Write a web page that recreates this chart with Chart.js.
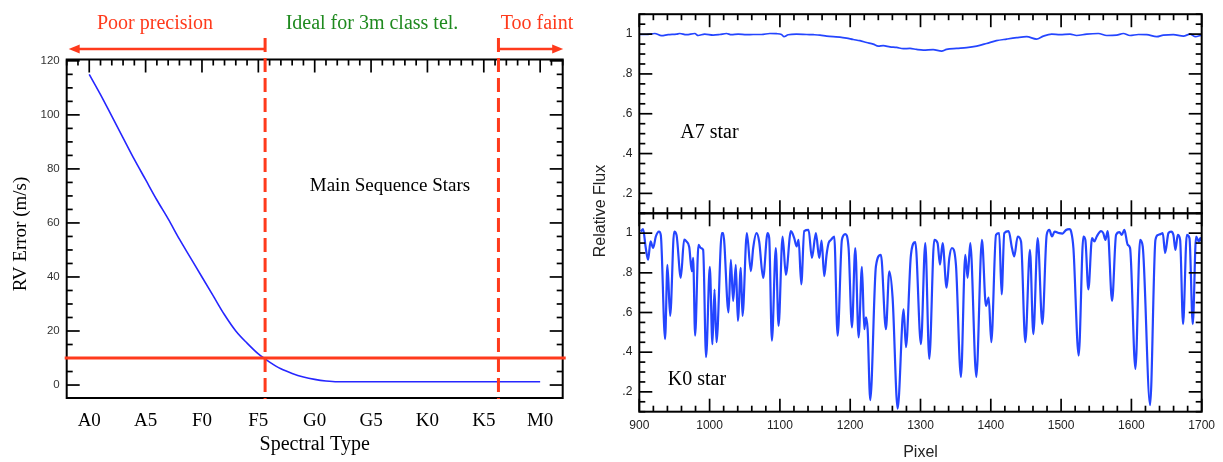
<!DOCTYPE html>
<html>
<head>
<meta charset="utf-8">
<script src="https://cdn.jsdelivr.net/npm/chart.js@4.4.1/dist/chart.umd.min.js"></script>
<style>
html,body{margin:0;padding:0;background:#fff;width:1223px;height:462px;overflow:hidden}
.box{position:absolute;top:0}
</style>
</head>
<body>
<div class="box" style="left:0;width:600px;height:462px"><canvas id="c1" width="600" height="462"></canvas></div>
<div class="box" style="left:580px;width:643px;height:462px"><canvas id="c2" width="643" height="462"></canvas></div>
<div class="box" style="left:580px;width:643px;height:462px"><canvas id="c3" width="643" height="462"></canvas></div>
<script>
// ---------- Left chart data ----------
const spectralTickValues = [0, 5, 10, 15, 20, 25, 30, 35, 40];
const spectralLabels = ['A0', 'A5', 'F0', 'F5', 'G0', 'G5', 'K0', 'K5', 'M0'];
const rvTickValues = [0, 20, 40, 60, 80, 100, 120];
const rvType = [0, 1, 2, 3, 4, 5, 6, 7, 8, 9, 10, 11, 12, 13, 14, 15, 16, 17, 18, 19, 20, 21, 22, 25, 30, 35, 40];
const rvError = [115, 107.5, 99.5, 91.5, 83.5, 76, 68.5, 61.5, 54, 47, 40, 33, 26, 20, 15.5, 11.5, 8.5, 6, 4.3, 3.0, 2.1, 1.5, 1.2, 1.2, 1.2, 1.2, 1.2];
const precisionLimit = 10;          // horizontal threshold (m/s)
const regionBounds = [15.6, 36.3];  // dashed boundaries in spectral-type units

// ---------- Right chart data ----------
const pixelTickValues = [900, 1000, 1100, 1200, 1300, 1400, 1500, 1600, 1700];
const fluxTickValues = [0.2, 0.4, 0.6, 0.8, 1.0];
const fluxTickLabels = ['.2', '.4', '.6', '.8', '1'];

const a7Pixel = [900, 910, 922, 931.5, 941, 953, 957.6, 967, 979, 983.7, 993, 1005, 1014.5, 1024, 1031, 1040.6, 1052.5, 1062, 1073.8, 1085.7, 1095, 1102.3, 1105.6, 1111.8, 1123.6, 1138, 1147.4, 1157, 1166.4, 1175.8, 1185.3, 1194.8, 1204.3, 1213.8, 1223.3, 1232.7, 1240, 1247, 1256.5, 1266, 1275.5, 1285, 1294.5, 1304, 1318, 1330, 1337, 1351.4, 1365.6, 1380, 1394, 1408, 1422.5, 1436.8, 1451, 1465, 1474.7, 1486.6, 1498.4, 1512.7, 1522, 1536.4, 1553, 1565, 1579, 1588.6, 1598, 1610, 1621.8, 1636, 1645.5, 1659.7, 1674, 1683.5, 1690.6, 1700];
const a7Flux = [0.998, 0.998, 1.003, 0.992, 0.997, 1.0, 1.003, 0.997, 1.003, 0.993, 1.0, 0.995, 0.998, 1.003, 0.997, 1.0, 0.997, 0.998, 0.998, 1.003, 1.002, 0.998, 0.987, 0.997, 1.0, 0.998, 0.997, 0.995, 0.99, 0.987, 0.985, 0.98, 0.973, 0.967, 0.958, 0.95, 0.94, 0.942, 0.936, 0.933, 0.927, 0.928, 0.923, 0.92, 0.922, 0.915, 0.923, 0.928, 0.932, 0.94, 0.953, 0.967, 0.975, 0.982, 0.987, 0.975, 0.99, 1.0, 0.997, 1.0, 0.993, 1.0, 1.003, 0.993, 0.995, 1.003, 0.993, 0.998, 0.997, 0.987, 0.995, 0.997, 0.99, 1.0, 0.987, 0.995];

const k0Pixel = [902, 905.4, 909, 912.5, 916, 919.7, 923.5, 928, 930.6, 936.7, 940, 943.9, 949.6, 953, 959, 963.8, 967, 971, 974.7, 976.6, 979.4, 984.2, 987.5, 990.8, 995, 1000.3, 1004, 1007, 1009.8, 1017.4, 1019.3, 1026.9, 1030.2, 1033.5, 1037.3, 1040.2, 1044.4, 1046.8, 1053, 1058.7, 1062, 1066.7, 1070.5, 1076.2, 1082.4, 1084.8, 1088.6, 1094.2, 1098.1, 1103.8, 1108.5, 1115.6, 1120.4, 1123.7, 1126.6, 1130.4, 1134.6, 1140.8, 1145.5, 1151.2, 1156, 1159.3, 1163.1, 1166.4, 1169.3, 1172.6, 1177.3, 1182.1, 1188.2, 1193, 1197.7, 1202.5, 1207.2, 1212, 1216.7, 1220, 1222.4, 1224.8, 1228.5, 1236.6, 1243.7, 1250.8, 1255.6, 1260.3, 1267.5, 1276, 1279.3, 1286.4, 1292.6, 1300.6, 1306.8, 1312.5, 1319.6, 1324.3, 1327.7, 1331.5, 1337.1, 1341, 1344.7, 1350.4, 1357.5, 1363.7, 1367, 1370.8, 1379.4, 1387.4, 1393.1, 1397, 1400.7, 1407.4, 1412, 1415.4, 1419.2, 1425.4, 1430.1, 1433.4, 1438.2, 1443, 1449.1, 1455.7, 1460.5, 1466.7, 1473.3, 1479.5, 1483.3, 1487, 1490.8, 1497.5, 1502, 1507, 1511.8, 1514.2, 1517.5, 1525, 1531.7, 1534.5, 1538.8, 1544, 1547.4, 1550.7, 1556.8, 1560, 1563, 1566.3, 1572.5, 1578.2, 1583, 1586.3, 1590, 1594.8, 1598.1, 1605.7, 1612.4, 1616.1, 1626.6, 1634.2, 1638, 1641.3, 1644.6, 1648, 1652.7, 1656.5, 1659.8, 1662.6, 1666, 1669.3, 1673.5, 1678.8, 1682.6, 1687.3, 1692, 1695.8, 1698.2, 1700];
const k0Flux = [1.008, 1.02, 0.93, 0.866, 0.958, 0.925, 0.983, 1.008, 0.99, 0.466, 0.84, 0.583, 1.008, 0.99, 0.775, 0.967, 0.958, 0.93, 0.808, 0.875, 0.483, 0.941, 0.925, 0.916, 0.375, 0.83, 0.44, 0.716, 0.45, 1.0, 1.0, 0.6, 0.866, 0.658, 0.84, 0.558, 0.825, 0.583, 1.0, 0.808, 0.925, 1.0, 0.958, 0.775, 1.0, 0.975, 0.458, 0.925, 0.533, 0.983, 0.79, 1.01, 0.975, 0.933, 0.966, 0.742, 1.01, 1.016, 0.875, 1.0, 0.875, 0.962, 0.783, 0.891, 0.95, 0.966, 0.983, 0.483, 0.966, 0.995, 0.925, 0.525, 0.925, 0.475, 0.83, 0.516, 0.575, 0.516, 0.158, 0.833, 0.89, 0.516, 0.808, 0.675, 0.116, 0.616, 0.425, 0.891, 0.955, 0.441, 0.95, 0.366, 0.966, 0.95, 0.841, 0.95, 0.725, 0.875, 0.925, 0.841, 0.275, 0.891, 0.775, 0.95, 0.275, 0.966, 0.633, 0.675, 0.45, 0.991, 1.0, 0.691, 1.0, 1.01, 0.925, 0.883, 0.983, 0.958, 0.45, 0.916, 0.491, 0.975, 0.541, 0.991, 1.016, 0.983, 1.008, 1.0, 0.998, 1.016, 1.02, 1.008, 0.925, 0.383, 0.983, 0.966, 0.716, 0.975, 0.958, 0.983, 1.01, 1.0, 0.966, 1.01, 0.658, 0.991, 1.005, 0.991, 1.016, 0.941, 0.925, 0.316, 0.966, 0.933, 0.133, 0.966, 0.991, 0.995, 1.0, 0.9, 1.0, 1.008, 0.991, 0.916, 0.991, 0.966, 0.541, 0.991, 0.975, 0.541, 0.983, 0.958, 0.975, 0.958];

// ---------- helpers ----------
const SERIF = "'Liberation Serif', 'Times New Roman', serif";
const SANS = "'Liberation Sans', Arial, sans-serif";

function drawFrame(chart, o) {
  const {ctx, chartArea: a} = chart;
  const xs = chart.scales.x, ys = chart.scales.y;
  ctx.save();
  ctx.strokeStyle = '#000';
  const seg = (x1, y1, x2, y2) => { ctx.beginPath(); ctx.moveTo(x1, y1); ctx.lineTo(x2, y2); ctx.stroke(); };
  ctx.lineWidth = 1.7;
  const yStart = Math.ceil(ys.min / o.yMinor - 1e-9) * o.yMinor;
  for (let v = yStart; v <= ys.max + 1e-9; v += o.yMinor) {
    const p = ys.getPixelForValue(v);
    const r = v / o.yMajor;
    const L = Math.abs(r - Math.round(r)) < 1e-6 ? 13 : 6;
    seg(a.left, p, a.left + L, p);
    seg(a.right, p, a.right - L, p);
  }
  const xStart = Math.ceil(xs.min / o.xMinor - 1e-9) * o.xMinor;
  for (let v = xStart; v <= xs.max + 1e-9; v += o.xMinor) {
    const p = xs.getPixelForValue(v);
    const r = v / o.xMajor;
    const L = Math.abs(r - Math.round(r)) < 1e-6 ? 13 : 6;
    if (o.top) seg(p, a.top, p, a.top + L);
    if (o.bottom) seg(p, a.bottom, p, a.bottom - L);
  }
  ctx.lineWidth = 2;
  ctx.strokeRect(a.left, a.top, a.right - a.left, a.bottom - a.top);
  ctx.restore();
}

function text(ctx, str, x, y, font, color, rot) {
  ctx.save();
  ctx.font = font;
  ctx.fillStyle = color;
  ctx.textAlign = 'center';
  ctx.textBaseline = 'middle';
  ctx.translate(x, y);
  if (rot) ctx.rotate(rot);
  ctx.fillText(str, 0, 0);
  ctx.restore();
}

const common = {
  responsive: false,
  animation: false,
  devicePixelRatio: 1,
  plugins: {legend: {display: false}, tooltip: {enabled: false}},
  elements: {point: {radius: 0}}
};

// ---------- Left chart ----------
const RED = '#ff3a1c';
new Chart(document.getElementById('c1'), {
  type: 'line',
  data: {
    datasets: [{
      data: rvType.map((t, i) => ({x: t, y: rvError[i]})),
      borderColor: '#2626ff', borderWidth: 1.6, pointRadius: 0,
      cubicInterpolationMode: 'monotone', fill: false
    }]
  },
  options: {
    ...common,
    layout: {padding: {left: 0, top: 59.5, right: 37.3, bottom: 0}},
    scales: {
      x: {
        type: 'linear', min: -2, max: 42,
        grid: {display: false, drawTicks: false}, border: {display: false},
        afterBuildTicks: s => { s.ticks = spectralTickValues.map(v => ({value: v})); },
        afterFit: s => { s.height = 64; },
        ticks: {padding: 12, autoSkip: false, maxRotation: 0, color: '#000',
                font: {family: SERIF, size: 19},
                callback: (v, i) => spectralLabels[i]},
        title: {display: true, text: 'Spectral Type', color: '#000',
                font: {family: SERIF, size: 20}, padding: {top: 0, bottom: 5}}
      },
      y: {
        type: 'linear', min: -4.8, max: 120.5,
        grid: {display: false, drawTicks: false}, border: {display: false},
        afterBuildTicks: s => { s.ticks = rvTickValues.map(v => ({value: v})); },
        afterFit: s => { s.width = 66.7; },
        ticks: {padding: 7, color: '#333', font: {family: SANS, size: 11.5}}
      }
    }
  },
  plugins: [{
    id: 'leftDecor',
    afterDatasetsDraw(chart) {
      const {ctx, chartArea: a} = chart;
      const xs = chart.scales.x, ys = chart.scales.y;
      drawFrame(chart, {yMinor: 5, yMajor: 20, xMinor: 1, xMajor: 5, top: true, bottom: false});
      ctx.save();
      const yp = ys.getPixelForValue(precisionLimit);
      ctx.strokeStyle = RED; ctx.lineWidth = 3;
      ctx.beginPath(); ctx.moveTo(a.left - 2, yp); ctx.lineTo(a.right + 3, yp); ctx.stroke();
      const b1 = xs.getPixelForValue(regionBounds[0]);
      const b2 = xs.getPixelForValue(regionBounds[1]);
      ctx.setLineDash([14, 6]);
      [b1, b2].forEach(xp => {
        ctx.beginPath(); ctx.moveTo(xp, 38); ctx.lineTo(xp, a.bottom + 1); ctx.stroke();
      });
      ctx.setLineDash([]);
      const ay = 49;
      ctx.lineWidth = 2.5;
      ctx.beginPath(); ctx.moveTo(a.left + 10, ay); ctx.lineTo(b1, ay); ctx.stroke();
      ctx.beginPath(); ctx.moveTo(b2, ay); ctx.lineTo(a.right - 9, ay); ctx.stroke();
      ctx.fillStyle = RED;
      ctx.beginPath(); ctx.moveTo(a.left + 2, ay); ctx.lineTo(a.left + 13, ay - 4.5); ctx.lineTo(a.left + 13, ay + 4.5); ctx.closePath(); ctx.fill();
      ctx.beginPath(); ctx.moveTo(a.right + 0.5, ay); ctx.lineTo(a.right - 10.5, ay - 4.5); ctx.lineTo(a.right - 10.5, ay + 4.5); ctx.closePath(); ctx.fill();
      ctx.restore();
      text(ctx, 'Poor precision', 155, 24, '20px ' + SERIF, RED);
      text(ctx, 'Ideal for 3m class tel.', 372, 24, '20px ' + SERIF, '#1f8a1f');
      text(ctx, 'Too faint', 537, 24, '20px ' + SERIF, RED);
      text(ctx, 'Main Sequence Stars', 390, 186, '19px ' + SERIF, '#000');
      text(ctx, 'RV Error (m/s)', 21, 234, '19px ' + SERIF, '#000', -Math.PI / 2);
    }
  }]
});

// ---------- Right charts ----------
const BLUE = '#2445ff';
const fluxY = {
  type: 'linear', min: 0.1, max: 1.1,
  grid: {display: false, drawTicks: false}, border: {display: false},
  afterBuildTicks: s => { s.ticks = fluxTickValues.map(v => ({value: v})); },
  afterFit: s => { s.width = 59.3; },
  ticks: {padding: 7, color: '#222', font: {family: SANS, size: 12},
          callback: (v, i) => fluxTickLabels[i]}
};

new Chart(document.getElementById('c2'), {
  type: 'line',
  data: {
    datasets: [{
      data: a7Pixel.map((p, i) => ({x: p, y: a7Flux[i]})),
      borderColor: BLUE, borderWidth: 1.7, pointRadius: 0,
      cubicInterpolationMode: 'monotone', fill: false
    }]
  },
  options: {
    ...common,
    layout: {padding: {left: 0, top: 14, right: 21.3, bottom: 248.7}},
    scales: {
      x: {type: 'linear', min: 900, max: 1700, display: false},
      y: fluxY
    }
  },
  plugins: [{
    id: 'topDecor',
    afterDatasetsDraw(chart) {
      drawFrame(chart, {yMinor: 0.05, yMajor: 0.2, xMinor: 20, xMajor: 100, top: true, bottom: true});
      text(chart.ctx, 'A7 star', 129.5, 133, '20px ' + SERIF, '#000');
    }
  }]
});

new Chart(document.getElementById('c3'), {
  type: 'line',
  data: {
    datasets: [{
      data: k0Pixel.map((p, i) => ({x: p, y: k0Flux[i]})),
      borderColor: BLUE, borderWidth: 2.2, pointRadius: 0,
      cubicInterpolationMode: 'monotone', fill: false
    }]
  },
  options: {
    ...common,
    layout: {padding: {left: 0, top: 213.3, right: 21.3, bottom: 0}},
    scales: {
      x: {
        type: 'linear', min: 900, max: 1700,
        grid: {display: false, drawTicks: false}, border: {display: false},
        afterBuildTicks: s => { s.ticks = pixelTickValues.map(v => ({value: v})); },
        afterFit: s => { s.height = 50.3; },
        ticks: {padding: 7, autoSkip: false, maxRotation: 0, color: '#222',
                font: {family: SANS, size: 12},
                callback: (v) => String(v)},
        title: {display: true, text: 'Pixel', color: '#222',
                font: {family: SANS, size: 16}, padding: {top: 0, bottom: 0}}
      },
      y: fluxY
    }
  },
  plugins: [{
    id: 'botDecor',
    afterDatasetsDraw(chart) {
      drawFrame(chart, {yMinor: 0.05, yMajor: 0.2, xMinor: 20, xMajor: 100, top: true, bottom: true});
      text(chart.ctx, 'K0 star', 117, 380, '20px ' + SERIF, '#000');
      text(chart.ctx, 'Relative Flux', 21, 211, '16px ' + SANS, '#222', -Math.PI / 2);
    }
  }]
});
</script>
</body>
</html>
